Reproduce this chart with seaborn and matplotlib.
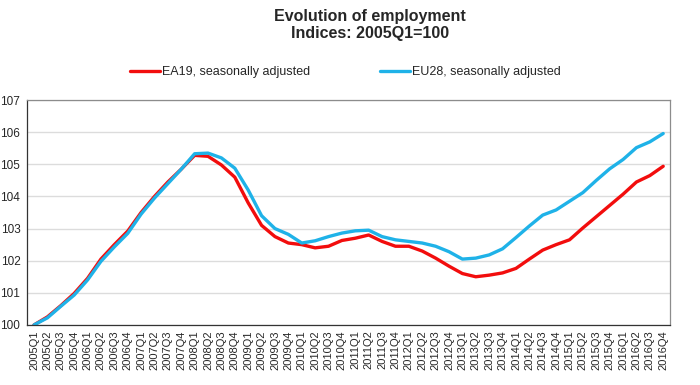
import matplotlib
matplotlib.use("Agg")
import matplotlib.pyplot as plt
import seaborn as sns
import pandas as pd
import numpy as np

# quarters 2005Q1 .. 2016Q4
quarters = [f"{y}Q{q}" for y in range(2005, 2017) for q in range(1, 5)]

ea19 = [100.0, 100.25, 100.6, 100.98, 101.45, 102.05, 102.5, 102.92, 103.5, 104.0,
        104.45, 104.85, 105.28, 105.25, 104.98, 104.6, 103.8, 103.1, 102.75, 102.55,
        102.5, 102.4, 102.45, 102.63, 102.7, 102.8, 102.6, 102.45, 102.45, 102.3,
        102.08, 101.83, 101.6, 101.5, 101.55, 101.62, 101.76, 102.05, 102.33, 102.5,
        102.65, 103.02, 103.37, 103.72, 104.07, 104.45, 104.65, 104.94]

eu28 = [100.0, 100.22, 100.58, 100.93, 101.4, 101.98, 102.43, 102.85, 103.45, 103.95,
        104.4, 104.85, 105.33, 105.35, 105.2, 104.88, 104.2, 103.4, 103.0, 102.82,
        102.55, 102.62, 102.75, 102.86, 102.93, 102.95, 102.75, 102.65, 102.6, 102.55,
        102.45, 102.28, 102.05, 102.08, 102.18, 102.37, 102.72, 103.08, 103.42, 103.58,
        103.85, 104.12, 104.5, 104.86, 105.15, 105.52, 105.7, 105.96]

df = pd.DataFrame({"pos": np.arange(len(quarters)), "quarter": quarters,
                   "EA19, seasonally adjusted": ea19,
                   "EU28, seasonally adjusted": eu28})
long = df.melt(id_vars=["pos", "quarter"], var_name="series", value_name="index")

sns.set_style("white")
plt.rcParams["font.family"] = ["Liberation Sans", "DejaVu Sans"]

fig = plt.figure(figsize=(7, 3.85), dpi=100)
ax = fig.add_axes([0.039, 0.156, 0.918, 0.584])

palette = {"EA19, seasonally adjusted": "#f20d0d",
           "EU28, seasonally adjusted": "#1fb2e8"}
sns.lineplot(data=long, x="pos", y="index", hue="series", palette=palette,
             linewidth=2.4, ax=ax, legend=True)

ax.set_xlim(-0.5, len(quarters) - 0.5)
ax.set_ylim(100, 107)
ax.set_yticks(range(100, 108))
ax.set_yticklabels([str(v) for v in range(100, 108)], fontsize=8.5)
ax.set_xticks(np.arange(len(quarters)))
ax.set_xticklabels(quarters, rotation=90, fontsize=8)
ax.set_xticks(np.arange(len(quarters) + 1) - 0.5, minor=True)
ax.tick_params(axis="x", which="major", length=0, pad=4)
ax.tick_params(axis="x", which="minor", length=3, color="#333333", direction="out")
ax.tick_params(axis="y", length=3, color="#333333", direction="out", pad=2)
ax.set_xlabel("")
ax.set_ylabel("")

ax.yaxis.grid(True, color="#dcdcdc", linewidth=1)
ax.set_axisbelow(True)
for side in ["top", "right"]:
    ax.spines[side].set_color("#8c8c8c")
for side in ["left", "bottom"]:
    ax.spines[side].set_color("#333333")
for s in ax.spines.values():
    s.set_linewidth(0.9)

handles, labels = ax.get_legend_handles_labels()
ax.get_legend().remove()
fig.legend(handles, labels, loc="center", bbox_to_anchor=(0.494, 0.813), ncol=2,
           frameon=False, fontsize=9, handlelength=2.4, handletextpad=0.15,
           columnspacing=5.6)

fig.text(0.529, 0.958, "Evolution of employment", ha="center", va="center",
         fontsize=11.5, fontweight="bold")
fig.text(0.529, 0.912, "Indices: 2005Q1=100", ha="center", va="center",
         fontsize=11.5, fontweight="bold")

fig.savefig("out.png", dpi=100)
